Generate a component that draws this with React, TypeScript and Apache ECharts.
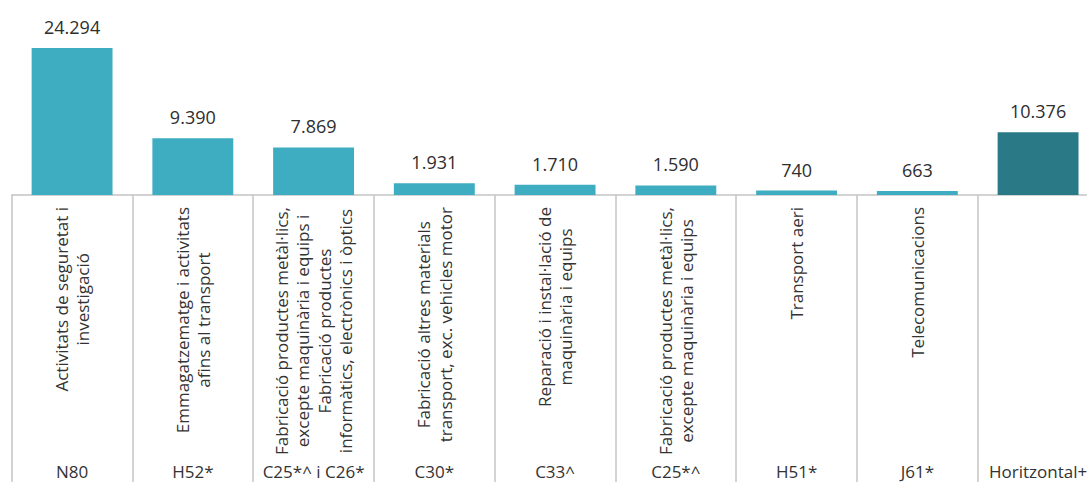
import React, { useEffect, useRef } from "react";
import * as echarts from "echarts";

const codes = ["N80", "H52*", "C25*^ i C26*", "C30*", "C33^", "C25*^", "H51*", "J61*", "Horitzontal+"];
const descriptions = [
  "Activitats de seguretat i\ninvestigació",
  "Emmagatzematge i activitats\nafins al transport",
  "Fabricació productes metàl·lics,\nexcepte maquinària i equips i\nFabricació productes\ninformàtics, electrònics i òptics",
  "Fabricació altres materials\ntransport, exc. vehicles motor",
  "Reparació i instal·lació de\nmaquinària i equips",
  "Fabricació productes metàl·lics,\nexcepte maquinària i equips",
  "Transport aeri",
  "Telecomunicacions",
  "",
];
const values = [24294, 9390, 7869, 1931, 1710, 1590, 740, 663, 10376];
const barColors = ["#3eadc2", "#3eadc2", "#3eadc2", "#3eadc2", "#3eadc2", "#3eadc2", "#3eadc2", "#3eadc2", "#2a7987"];

const fmt = (v: number) => v.toString().replace(/\B(?=(\d{3})+(?!\d))/g, ".");

export default function App() {
  const ref = useRef<HTMLDivElement>(null);
  useEffect(() => {
    document.body.style.margin = "0";
    const chart = echarts.init(ref.current!, undefined, { renderer: "svg" });
    chart.setOption({
      animation: false,
      grid: { left: 11.7, top: 15, width: 1086.75, height: 180 },
      xAxis: [
        {
          type: "category",
          data: descriptions,
          position: "bottom",
          axisLine: { show: true, lineStyle: { color: "#c4c4c4", width: 1.5 } },
          axisTick: { show: true, interval: 0, length: 300, lineStyle: { color: "#c4c4c4", width: 1.5 } },
          axisLabel: {
            interval: 0,
            rotate: 90,
            margin: 12,
            formatter: (v: string) =>
              v ? v.split("\n").map((l) => "{c|" + l + "}").join("\n") : "",
            rich: {
              c: {
                align: "center",
                fontFamily: "Open Sans",
                fontSize: 17,
                color: "#333333",
                lineHeight: 21.5,
              },
            },
          },
        },
        {
          type: "category",
          data: codes,
          position: "bottom",
          axisLine: { show: false },
          axisTick: { show: false },
          axisLabel: {
            interval: 0,
            margin: 268,
            fontFamily: "Open Sans",
            fontSize: 17,
            color: "#333333",
          },
        },
      ],
      yAxis: { type: "value", min: 0, max: 29750, show: false, splitLine: { show: false } },
      series: [
        {
          type: "bar",
          xAxisIndex: 0,
          barWidth: "67%",
          data: values.map((v, i) => ({ value: v, itemStyle: { color: barColors[i] } })),
          label: {
            show: true,
            position: "top",
            distance: 12,
            formatter: (p: any) => fmt(p.value),
            fontFamily: "Open Sans",
            fontSize: 18,
            color: "#2e2e2e",
          },
        },
      ],
    });
    return () => chart.dispose();
  }, []);
  return (
    <div style={{ width: 1087, height: 482, overflow: "hidden" }}>
      <div ref={ref} style={{ width: 1100, height: 482 }} />
    </div>
  );
}
